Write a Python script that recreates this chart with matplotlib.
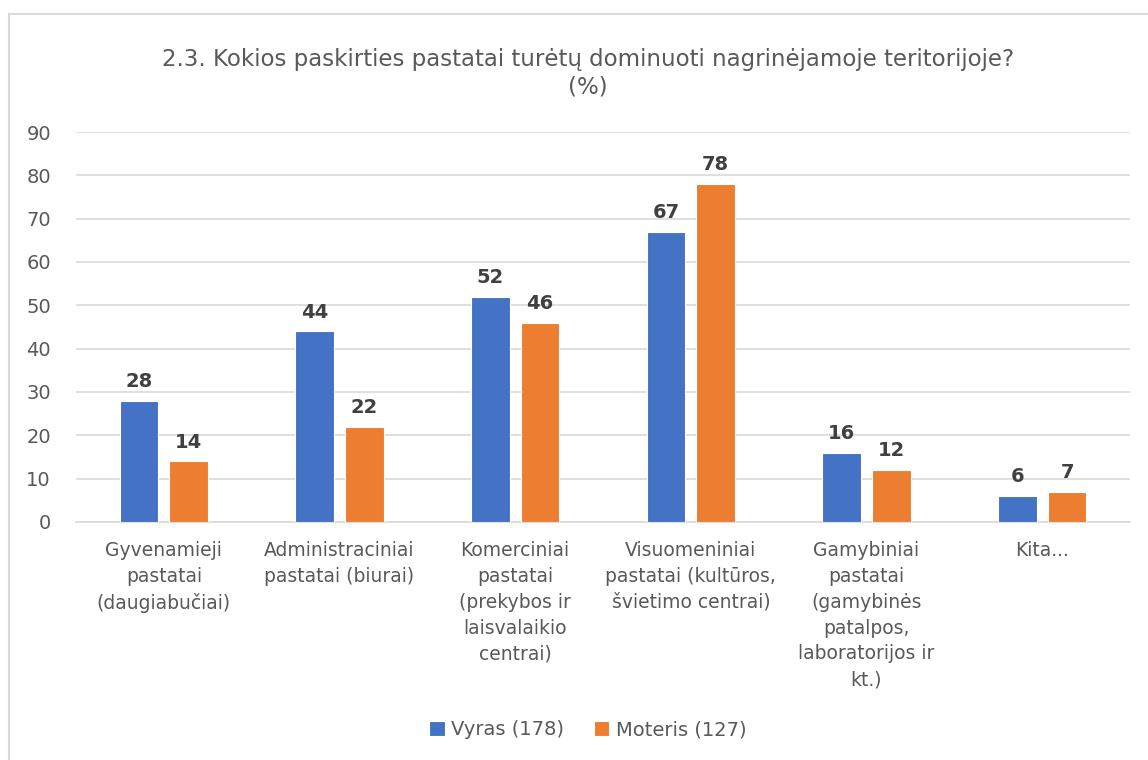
import matplotlib
matplotlib.use("Agg")
import matplotlib.pyplot as plt
import numpy as np

categories = [
    "Gyvenamieji\npastatai\n(daugiabučiai)",
    "Administraciniai\npastatai (biurai)",
    "Komerciniai\npastatai\n(prekybos ir\nlaisvalaikio\ncentrai)",
    "Visuomeniniai\npastatai (kultūros,\nšvietimo centrai)",
    "Gamybiniai\npastatai\n(gamybinės\npatalpos,\nlaboratorijos ir\nkt.)",
    "Kita...",
]
vyras = [28, 44, 52, 67, 16, 6]
moteris = [14, 22, 46, 78, 12, 7]
series_names = ["Vyras (178)", "Moteris (127)"]

plt.rcParams["font.family"] = ["DejaVu Sans"]

blue = "#4472C4"
orange = "#ED7D31"
txt = "#595959"

fig = plt.figure(figsize=(11.48, 7.6), dpi=100)
ax = fig.add_axes([0.0662, 0.3132, 0.9181, 0.5131])

x = np.arange(len(categories))
w = 0.22
b1 = ax.bar(x - 0.142, vyras, w, color=blue, edgecolor="white", linewidth=0.8, label=series_names[0], zorder=3)
b2 = ax.bar(x + 0.142, moteris, w, color=orange, edgecolor="white", linewidth=0.8, label=series_names[1], zorder=3)
for bars in (b1, b2):
    ax.bar_label(bars, padding=7, fontsize=14, color="#404040", fontweight="bold")

ax.set_xlim(-0.5, len(categories) - 0.5)
ax.set_ylim(0, 90)
ax.set_yticks(range(0, 91, 10))
ax.yaxis.grid(True, color="#D9D9D9", linewidth=1.2, zorder=0)
ax.tick_params(axis="y", length=0, labelsize=14, labelcolor=txt, pad=18)
ax.tick_params(axis="x", length=0, pad=14)
ax.set_xticks(x)
ax.set_xticklabels(categories, fontsize=13.5, color=txt, linespacing=1.45, va="top")
for s in ["top", "right", "left"]:
    ax.spines[s].set_visible(False)
ax.spines["bottom"].set_color("#D9D9D9")
ax.spines["bottom"].set_linewidth(1.2)

fig.text(0.512, 0.903, "2.3. Kokios paskirties pastatai turėtų dominuoti nagrinėjamoje teritorijoje?\n(%)",
         ha="center", va="center", fontsize=16.5, color=txt, linespacing=1.25)

leg = fig.legend(loc="center", bbox_to_anchor=(0.512, 0.04), ncol=2, frameon=False,
                 prop={"family": ["DejaVu Sans"], "size": 14},
                 handlelength=0.8, handleheight=0.8, handletextpad=0.35, columnspacing=1.5)
for t in leg.get_texts():
    t.set_color(txt)

border = plt.Rectangle((9 / 1148, -0.1), 1.2, 1 - 14 / 760 + 0.1, transform=fig.transFigure,
                       fill=False, edgecolor="#D9D9D9", linewidth=1.5)
fig.patches.append(border)

fig.savefig("out.png", dpi=100)
